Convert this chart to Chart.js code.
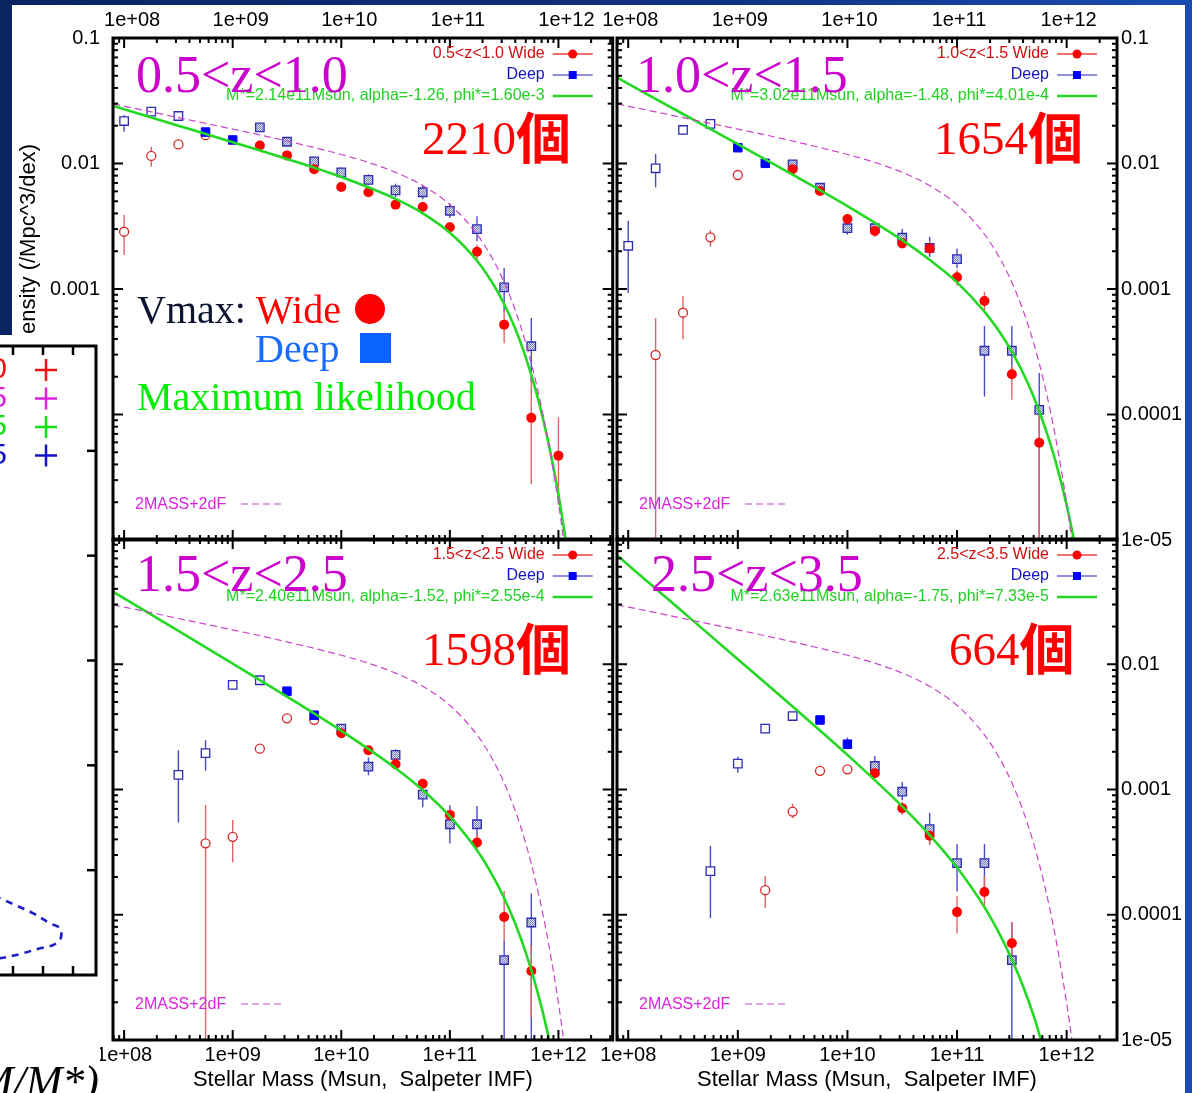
<!DOCTYPE html>
<html>
<head>
<meta charset="utf-8">
<title>Stellar mass functions</title>
<script src="https://cdn.jsdelivr.net/npm/chart.js@4.4.1/dist/chart.umd.min.js"></script>
<style>
  html, body { margin: 0; padding: 0; }
  body { width: 1192px; height: 1093px; overflow: hidden; position: relative;
         background: linear-gradient(90deg, #0a2462 0%, #0f3282 60%, #1a4cb2 100%); }
  #sheet { position: absolute; left: 12px; top: 5px; width: 1173px; height: 1088px; background: #fff; }
  #coverBg { position: absolute; left: 0; top: 335px; width: 100px; height: 758px; background: #fff; }
  canvas { position: absolute; }
</style>
</head>
<body>
<div id="sheet"></div>
<canvas id="tl" width="620" height="565" style="left:0px;top:0px"></canvas>
<canvas id="tr" width="604" height="565" style="left:588px;top:0px"></canvas>
<canvas id="bl" width="620" height="579" style="left:0px;top:514px"></canvas>
<canvas id="br" width="604" height="579" style="left:588px;top:514px"></canvas>
<div id="coverBg"></div>
<canvas id="ov" width="400" height="770" style="left:-300px;top:335px"></canvas>
<script>
// ---- ticks / labels
const xTickValues = [1e8, 1e9, 1e10, 1e11, 1e12];
const xTickLabels = ['1e+08', '1e+09', '1e+10', '1e+11', '1e+12'];
const yTickValues = [1e-5, 1e-4, 1e-3, 1e-2, 1e-1];
const yTickLabels = ['1e-05', '0.0001', '0.001', '0.01', '0.1'];

const zRanges = ['0.5<z<1.0', '1.0<z<1.5', '1.5<z<2.5', '2.5<z<3.5'];
const galaxyCounts = ['2210', '1654', '1598', '664'];
const fitLabels = [
    'M*=2.14e11Msun, alpha=-1.26, phi*=1.60e-3',
    'M*=3.02e11Msun, alpha=-1.48, phi*=4.01e-4',
    'M*=2.40e11Msun, alpha=-1.52, phi*=2.55e-4',
    'M*=2.63e11Msun, alpha=-1.75, phi*=7.33e-5'
];

// ---- data: [log10 M, phi, phi low, phi high]
// 0.5<z<1.0
const p1WideOpen = [[8.00,0.00286,0.00187,0.00389],[8.25,0.0115,0.00944,0.0136],[8.50,0.0142,0.0131,0.0153],[8.75,0.0168,0.0158,0.0178]];
const p1WideFilled = [[9.25,0.0139,0.0133,0.0145],[9.50,0.0116,0.0111,0.0121],[9.75,0.0090,0.0086,0.0095],[10.00,0.0065,0.0062,0.0068],[10.25,0.0059,0.0056,0.0062],[10.50,0.0047,0.0044,0.0050],[10.75,0.0045,0.0042,0.0048],[11.00,0.0031,0.0029,0.0034],[11.25,0.00198,0.0017,0.00225],[11.50,0.00052,0.00037,0.00068],[11.75,0.000094,0.000028,0.000206],[12.00,0.000047,0.000019,0.000095]];
const p1DeepOpen = [[8.00,0.0218,0.0179,0.0243],[8.25,0.0259,0.0245,0.0275],[8.50,0.0239,0.0225,0.0255]];
const p1DeepFilled = [[8.75,0.0178,0.0170,0.0187],[9.00,0.0154,0.0146,0.0162]];
const p1DeepHatched = [[9.25,0.0194,0.0183,0.0207],[9.50,0.0149,0.0140,0.0158],[9.75,0.0104,0.0096,0.0113],[10.00,0.0085,0.0078,0.0093],[10.25,0.0074,0.0067,0.0082],[10.50,0.0061,0.0054,0.0069],[10.75,0.0059,0.0052,0.0067],[11.00,0.0042,0.0037,0.0048],[11.25,0.0030,0.0024,0.0038],[11.50,0.00103,0.00066,0.00147],[11.75,0.00035,0.000182,0.000587]];
const p1Fit = [[7.9,0.0287],[8.5,0.0200],[9.0,0.0148],[9.5,0.01087],[10.0,0.0078],[10.5,0.00522],[10.75,0.00401],[11.0,0.00281],[11.25,0.00168],[11.4,0.00109],[11.5,0.000759],[11.6,0.000488],[11.7,0.000284],[11.8,0.000146],[11.9,0.000064],[12.0,0.0000231],[12.1,0.0000065]];

// 1.0<z<1.5
const p2WideOpen = [[8.25,0.000298,0.000001,0.000585],[8.50,0.000647,0.000397,0.00088],[8.75,0.00258,0.00217,0.00295],[9.00,0.0081,0.0077,0.0085]];
const p2WideFilled = [[9.50,0.0090,0.0084,0.0096],[9.75,0.00604,0.0056,0.0065],[10.00,0.00361,0.0033,0.0039],[10.25,0.0029,0.0026,0.0032],[10.50,0.00231,0.0021,0.0026],[10.75,0.0021,0.0019,0.0024],[11.00,0.00124,0.00106,0.00142],[11.25,0.000802,0.00066,0.00095],[11.50,0.000209,0.000131,0.000248],[11.75,0.0000596,0.000001,0.000103]];
const p2DeepOpen = [[8.00,0.00221,0.000935,0.0035],[8.25,0.00916,0.00645,0.0119],[8.50,0.0185,0.0169,0.0203],[8.75,0.0207,0.0198,0.0216]];
const p2DeepFilled = [[9.00,0.01336,0.0128,0.0140],[9.25,0.01003,0.0096,0.0105]];
const p2DeepHatched = [[9.50,0.00986,0.0094,0.0104],[9.75,0.00641,0.0060,0.0069],[10.00,0.00305,0.0027,0.0035],[10.25,0.00305,0.0027,0.0034],[10.50,0.00256,0.0022,0.0030],[10.75,0.00213,0.0018,0.0026],[11.00,0.00173,0.00146,0.0021],[11.25,0.000322,0.000139,0.000507],[11.50,0.000322,0.000207,0.000507],[11.75,0.000109,0.000001,0.000214]];
const p2Fit = [[7.9,0.0483],[8.5,0.0248],[9.0,0.01426],[9.5,0.00815],[10.0,0.00458],[10.5,0.00245],[10.75,0.00171],[11.0,0.00113],[11.25,0.00066],[11.4,0.00044],[11.5,0.000317],[11.6,0.000216],[11.7,0.000138],[11.8,0.00008],[11.9,0.000042],[12.0,0.000019],[12.1,0.0000072]];

// 1.5<z<2.5
const p3WideOpen = [[8.75,0.000372,0.000001,0.000753],[9.00,0.000419,0.000261,0.000571],[9.25,0.00212,0.0020,0.00225],[9.50,0.0037,0.0035,0.0039],[9.75,0.0036,0.0034,0.0038]];
const p3WideFilled = [[10.00,0.00281,0.0026,0.0030],[10.25,0.00206,0.0019,0.0022],[10.50,0.00159,0.0015,0.0017],[10.75,0.00111,0.00103,0.0012],[11.00,0.000627,0.00056,0.0007],[11.25,0.000377,0.00032,0.00044],[11.50,0.000096,0.000062,0.000155],[11.75,0.0000355,0.0000151,0.0000565]];
const p3DeepOpen = [[8.50,0.00131,0.000545,0.00206],[8.75,0.00195,0.00141,0.00247],[9.00,0.00684,0.0064,0.0073],[9.25,0.00745,0.0071,0.0078]];
const p3DeepFilled = [[9.50,0.0061,0.0058,0.0064],[9.75,0.00392,0.0037,0.0041]];
const p3DeepHatched = [[10.00,0.00306,0.0029,0.0033],[10.25,0.00152,0.0013,0.0018],[10.50,0.00189,0.0017,0.0021],[10.75,0.00091,0.00072,0.0011],[11.00,0.000528,0.00037,0.00075],[11.25,0.000528,0.00042,0.00074],[11.50,0.0000435,0.000001,0.000062],[11.75,0.0000867,0.000001,0.000148]];
const p3Fit = [[7.9,0.0379],[8.5,0.01845],[9.0,0.0101],[9.5,0.00551],[10.0,0.00294],[10.5,0.00148],[10.75,0.00099],[11.0,0.00061],[11.25,0.000327],[11.4,0.000201],[11.5,0.000136],[11.6,0.000086],[11.7,0.0000496],[11.8,0.0000256],[11.9,0.0000115],[12.0,0.0000043]];

// 2.5<z<3.5
const p4WideOpen = [[9.25,0.000157,0.000113,0.000204],[9.50,0.000667,0.00059,0.00077],[9.75,0.00141,0.0013,0.00153],[10.00,0.00145,0.00135,0.00156]];
const p4WideFilled = [[10.25,0.00135,0.00125,0.00146],[10.50,0.00071,0.00063,0.0008],[10.75,0.000427,0.00036,0.0005],[11.00,0.000105,0.000071,0.000141],[11.25,0.000152,0.000114,0.000204],[11.50,0.0000593,0.000040,0.000087]];
const p4DeepOpen = [[8.75,0.000223,0.000094,0.000355],[9.00,0.00161,0.00136,0.00183],[9.25,0.00306,0.0029,0.0033],[9.50,0.00386,0.0037,0.0041]];
const p4DeepFilled = [[9.75,0.00359,0.0034,0.0038],[10.00,0.0023,0.0021,0.0026]];
const p4DeepHatched = [[10.25,0.00154,0.0013,0.00185],[10.50,0.00096,0.00082,0.00115],[10.75,0.000482,0.00037,0.00065],[11.00,0.000258,0.000153,0.000366],[11.25,0.000258,0.000155,0.000366],[11.50,0.0000435,0.000001,0.000087]];
const p4Fit = [[7.9,0.0737],[8.5,0.0261],[9.0,0.01097],[9.5,0.00459],[10.0,0.00189],[10.5,0.000733],[10.75,0.000433],[11.0,0.000238],[11.25,0.000115],[11.4,0.000067],[11.5,0.000044],[11.6,0.0000272],[11.7,0.0000155],[11.8,0.0000079]];

// local 2MASS+2dF mass function, same in every panel
const localMF = [[7.9,0.0298],[8.25,0.0258],[8.5,0.0232],[8.75,0.0209],[9.0,0.0188],[9.25,0.0169],[9.5,0.0151],[9.75,0.0134],[10.0,0.0118],[10.25,0.0102],[10.5,0.0085],[10.75,0.00667],[11.0,0.0047],[11.25,0.00273],[11.4,0.0017],[11.5,0.00113],[11.6,0.000686],[11.7,0.000368],[11.8,0.00017],[11.9,0.000065],[12.0,0.0000197],[12.05,0.0000097],[12.1,0.0000044]];

// partly hidden plot on the left (only a contour piece is visible)
const ovEllipse = [[5.567,0.849],[6.567,0.731],[7.067,0.668],[7.677,0.588],[8.233,0.493],[8.567,0.445],[8.59,0.350],[8.343,0.286],[7.9,0.255],[7.233,0.200],[6.567,0.159],[5.567,0.114]];
const ovXTicks = [0, 1, 2, 3, 4, 5, 6, 7, 8, 9];
const ovYTicks = [1, 2, 3, 4, 5];
const ovKeyColors = ['#ee1111', '#dd22dd', '#11dd11', '#1111cc'];

// ---- helpers
const sans = '"Liberation Sans", Arial, sans-serif';
const serif = '"Liberation Serif", "Times New Roman", serif';
const cjk = '"Noto Sans CJK JP", "Noto Sans CJK SC", sans-serif';

function toPoints(rows) {
    return rows.map(r => ({x: Math.pow(10, r[0]), y: r[1], lo: r[2], hi: r[3]}));
}
function toCurve(rows) {
    return rows.map(r => ({x: Math.pow(10, r[0]), y: r[1]}));
}

function stipple() {
    let c = document.createElement('canvas');
    c.width = 2; c.height = 2;
    let g = c.getContext('2d');
    g.fillStyle = '#dcdff2';
    g.fillRect(0, 0, 2, 2);
    g.fillStyle = '#7c82bc';
    g.fillRect(0, 0, 1, 1);
    g.fillRect(1, 1, 1, 1);
    return g.createPattern(c, 'repeat');
}
const hatch = stipple();

function logTickSet(min, max) {
    let out = [];
    for (let k = Math.floor(Math.log10(min)); k <= Math.ceil(Math.log10(max)); k++) {
        for (let d = 1; d <= 9; d++) {
            let v = d * Math.pow(10, k);
            if (v > min * 1.0001 && v < max / 1.0001) out.push({v: v, major: d === 1});
        }
    }
    return out;
}

function line(ctx, x1, y1, x2, y2) {
    ctx.beginPath();
    ctx.moveTo(x1, y1);
    ctx.lineTo(x2, y2);
    ctx.stroke();
}

// per-canvas decorations (slide text boxes that sit on the figure)
const panelInfo = {
    tl: {
        idx: 0,
        notes: [
            {x: 136, y: 92, parts: [{text: zRanges[0], font: '52px ' + serif, color: '#cc00cc'}]},
            {x: 422, y: 154, parts: [{text: galaxyCounts[0], font: '47px ' + serif, color: '#ff0000'}, {text: '個', font: 'bold 55px ' + cjk, color: '#ff0000', dy: 4}]},
            {x: 137, y: 323, parts: [{text: 'Vmax: ', font: '40px ' + serif, color: '#0c1430'}, {text: 'Wide', font: '40px ' + serif, color: '#ff0000'}]},
            {x: 255, y: 362, parts: [{text: 'Deep', font: '40px ' + serif, color: '#1a6cff'}]},
            {x: 137, y: 410, parts: [{text: 'Maximum likelihood', font: '40px ' + serif, color: '#00ee00'}]}
        ],
        shapes: [
            {type: 'circle', x: 370, y: 309, r: 15, color: '#ff0000'},
            {type: 'square', x: 360, y: 333, w: 31, h: 30, color: '#0a64ff'}
        ]
    },
    tr: {
        idx: 1,
        notes: [
            {x: 636, y: 92, parts: [{text: zRanges[1], font: '52px ' + serif, color: '#cc00cc'}]},
            {x: 934, y: 154, parts: [{text: galaxyCounts[1], font: '47px ' + serif, color: '#ff0000'}, {text: '個', font: 'bold 55px ' + cjk, color: '#ff0000', dy: 4}]}
        ],
        shapes: []
    },
    bl: {
        idx: 2,
        notes: [
            {x: 136, y: 591, parts: [{text: zRanges[2], font: '52px ' + serif, color: '#cc00cc'}]},
            {x: 422, y: 665, parts: [{text: galaxyCounts[2], font: '47px ' + serif, color: '#ff0000'}, {text: '個', font: 'bold 55px ' + cjk, color: '#ff0000', dy: 4}]}
        ],
        shapes: []
    },
    br: {
        idx: 3,
        notes: [
            {x: 651, y: 591, parts: [{text: zRanges[3], font: '52px ' + serif, color: '#cc00cc'}]},
            {x: 949, y: 665, parts: [{text: galaxyCounts[3], font: '47px ' + serif, color: '#ff0000'}, {text: '個', font: 'bold 55px ' + cjk, color: '#ff0000', dy: 4}]}
        ],
        shapes: []
    }
};

// ---- plugins
const errorBars = {
    id: 'errorBars',
    beforeDatasetsDraw(chart) {
        const {ctx, chartArea: a, scales: {x, y}} = chart;
        ctx.save();
        ctx.beginPath();
        ctx.rect(a.left, a.top, a.right - a.left, a.bottom - a.top);
        ctx.clip();
        chart.data.datasets.forEach(ds => {
            if (!ds.errColor) return;
            ctx.strokeStyle = ds.errColor;
            ctx.lineWidth = 1.4;
            ds.data.forEach(p => {
                let px = x.getPixelForValue(p.x);
                line(ctx, px, y.getPixelForValue(p.hi), px, y.getPixelForValue(p.lo));
            });
        });
        ctx.restore();
    }
};

const gpFrame = {
    id: 'gpFrame',
    afterDatasetsDraw(chart) {
        const {ctx, chartArea: a, scales: {x, y}} = chart;
        ctx.save();
        ctx.strokeStyle = '#000';
        ctx.lineWidth = 2;
        logTickSet(x.min, x.max).forEach(t => {
            let p = x.getPixelForValue(t.v);
            let L = t.major ? 10 : 5;
            line(ctx, p, a.top, p, a.top + L);
            line(ctx, p, a.bottom, p, a.bottom - L);
        });
        logTickSet(y.min, y.max).forEach(t => {
            let p = y.getPixelForValue(t.v);
            let L = t.major ? 10 : 5;
            line(ctx, a.left, p, a.left + L, p);
            line(ctx, a.right, p, a.right - L, p);
        });
        ctx.lineWidth = 3;
        ctx.strokeRect(a.left, a.top, a.right - a.left, a.bottom - a.top);
        ctx.restore();
    }
};

const gpKey = {
    id: 'gpKey',
    afterDatasetsDraw(chart) {
        const info = panelInfo[chart.canvas.id];
        const {ctx, chartArea: a} = chart;
        const rows = [
            {text: zRanges[info.idx] + ' Wide', color: '#d01010', stroke: '#e84040', lw: 1.3, marker: 'circle', fill: '#ff0000'},
            {text: 'Deep', color: '#1414c4', stroke: '#6a6ad4', lw: 1.3, marker: 'rect', fill: '#0000ff'},
            {text: fitLabels[info.idx], color: '#22d022', stroke: '#25d825', lw: 2.6, marker: null}
        ];
        ctx.save();
        ctx.font = '16px ' + sans;
        ctx.textBaseline = 'middle';
        rows.forEach((r, i) => {
            let yy = a.top + 16 + i * 21;
            ctx.fillStyle = r.color;
            ctx.textAlign = 'right';
            ctx.fillText(r.text, a.right - 68, yy);
            ctx.strokeStyle = r.stroke;
            ctx.lineWidth = r.lw;
            line(ctx, a.right - 60, yy, a.right - 20, yy);
            ctx.fillStyle = r.fill;
            if (r.marker === 'circle') {
                ctx.beginPath();
                ctx.arc(a.right - 40, yy, 4.5, 0, Math.PI * 2);
                ctx.fill();
            } else if (r.marker === 'rect') {
                ctx.fillRect(a.right - 44, yy - 4, 8, 8);
            }
        });
        // 2MASS+2dF key, lower left
        let ky = a.bottom - 36;
        ctx.fillStyle = '#dd22dd';
        ctx.textAlign = 'left';
        ctx.fillText('2MASS+2dF', a.left + 22, ky + 1);
        ctx.strokeStyle = '#c846c8';
        ctx.lineWidth = 1.2;
        ctx.setLineDash([7, 4]);
        line(ctx, a.left + 128, ky, a.left + 169, ky);
        ctx.restore();
    }
};

const slideText = {
    id: 'slideText',
    afterDraw(chart) {
        const info = panelInfo[chart.canvas.id];
        const ctx = chart.ctx;
        const ox = parseFloat(chart.canvas.style.left);
        const oy = parseFloat(chart.canvas.style.top);
        ctx.save();
        ctx.textBaseline = 'alphabetic';
        ctx.textAlign = 'left';
        info.notes.forEach(n => {
            let x = n.x - ox;
            n.parts.forEach(p => {
                ctx.font = p.font;
                ctx.fillStyle = p.color;
                ctx.fillText(p.text, x, n.y - oy + (p.dy || 0));
                x += ctx.measureText(p.text).width;
            });
        });
        info.shapes.forEach(s => {
            ctx.fillStyle = s.color;
            if (s.type === 'circle') {
                ctx.beginPath();
                ctx.arc(s.x - ox, s.y - oy, s.r, 0, Math.PI * 2);
                ctx.fill();
            } else {
                ctx.fillRect(s.x - ox, s.y - oy, s.w, s.h);
            }
        });
        ctx.restore();
    }
};

// ---- panels
function panelConfig(s, left, top) {
    return {
        type: 'scatter',
        data: {
            datasets: [
                {label: 'Wide (incomplete)', data: toPoints(s.wideOpen), pointStyle: 'circle', pointRadius: 4.5, backgroundColor: '#ffffff', borderColor: '#d82828', borderWidth: 1.3, errColor: '#e06464', order: 6},
                {label: 'Deep (incomplete)', data: toPoints(s.deepOpen), pointStyle: 'rect', pointRadius: 6, backgroundColor: '#ffffff', borderColor: '#2c2cb4', borderWidth: 1.3, errColor: '#4a4ac8', order: 5},
                {label: 'Deep', data: toPoints(s.deepHatched), pointStyle: 'rect', pointRadius: 6, backgroundColor: hatch, borderColor: '#2c2cb4', borderWidth: 1.3, errColor: '#4a4ac8', order: 4},
                {label: 'Deep only', data: toPoints(s.deepFilled), pointStyle: 'rect', pointRadius: 6, backgroundColor: '#0000ff', borderColor: '#0000ff', borderWidth: 1, errColor: '#4a4ac8', order: 3},
                {label: 'Wide', data: toPoints(s.wideFilled), pointStyle: 'circle', pointRadius: 5, backgroundColor: '#ff0000', borderColor: '#ff0000', borderWidth: 0, errColor: '#e06464', order: 2},
                {label: 'Maximum likelihood', data: toCurve(s.fit), showLine: true, borderColor: '#25d825', borderWidth: 2.6, pointRadius: 0, cubicInterpolationMode: 'monotone', order: 1},
                {label: '2MASS+2dF', data: toCurve(localMF), showLine: true, borderColor: '#c846c8', borderWidth: 1.2, borderDash: [7, 4], pointRadius: 0, cubicInterpolationMode: 'monotone', order: 0}
            ]
        },
        options: {
            responsive: false,
            animation: false,
            devicePixelRatio: 1,
            events: [],
            layout: {padding: {
                left: left ? 0 : 29,
                right: left ? 3 : 0,
                top: top ? 0 : 25,
                bottom: top ? 25 : 0
            }},
            elements: {line: {capBezierPoints: false}},
            plugins: {legend: {display: false}, tooltip: {enabled: false}},
            scales: {
                x: {
                    type: 'logarithmic',
                    position: top ? 'top' : 'bottom',
                    min: 7.9e7,
                    max: left ? 3.16e12 : 2.88e12,
                    grid: {display: false, drawTicks: false},
                    border: {display: false},
                    afterBuildTicks: sc => { sc.ticks = xTickValues.map(v => ({value: v})); },
                    afterFit: sc => { sc.height = top ? 38 : 53; },
                    ticks: {
                        autoSkip: false, maxRotation: 0, padding: top ? 6 : 3, color: '#000',
                        labelOffset: top ? (left ? 8 : 2) : 0,
                        font: {family: sans, size: 20},
                        callback: (v, i) => xTickLabels[i]
                    },
                    title: {
                        display: !top, text: 'Stellar Mass (Msun,  Salpeter IMF)', color: '#000',
                        font: {family: sans, size: 22}, padding: {top: 0, bottom: 0}
                    }
                },
                y: {
                    type: 'logarithmic',
                    position: left ? 'left' : 'right',
                    min: 1e-5,
                    max: 0.1,
                    grid: {display: false, drawTicks: false},
                    border: {display: false},
                    afterBuildTicks: sc => { sc.ticks = yTickValues.map(v => ({value: v})); },
                    afterFit: sc => { sc.width = left ? 113 : 75; },
                    ticks: {
                        autoSkip: false, padding: left ? 13 : 4, color: '#000',
                        font: {family: sans, size: 20},
                        // the top label of the lower right panel would sit on the 1e-05 above it
                        callback: (v, i) => (!top && !left && i === 4) ? '' : yTickLabels[i]
                    },
                    title: {
                        display: left, text: 'Number Density (/Mpc^3/dex)', color: '#000',
                        font: {family: sans, size: 22}, padding: {top: 16, bottom: 0}
                    }
                }
            }
        },
        plugins: [errorBars, gpFrame, gpKey, slideText]
    };
}

new Chart(document.getElementById('tl'), panelConfig(
    {wideOpen: p1WideOpen, wideFilled: p1WideFilled, deepOpen: p1DeepOpen, deepFilled: p1DeepFilled, deepHatched: p1DeepHatched, fit: p1Fit}, true, true));
new Chart(document.getElementById('tr'), panelConfig(
    {wideOpen: p2WideOpen, wideFilled: p2WideFilled, deepOpen: p2DeepOpen, deepFilled: p2DeepFilled, deepHatched: p2DeepHatched, fit: p2Fit}, false, true));
new Chart(document.getElementById('bl'), panelConfig(
    {wideOpen: p3WideOpen, wideFilled: p3WideFilled, deepOpen: p3DeepOpen, deepFilled: p3DeepFilled, deepHatched: p3DeepHatched, fit: p3Fit}, true, false));
new Chart(document.getElementById('br'), panelConfig(
    {wideOpen: p4WideOpen, wideFilled: p4WideFilled, deepOpen: p4DeepOpen, deepFilled: p4DeepFilled, deepHatched: p4DeepHatched, fit: p4Fit}, false, false));

// ---- the other figure peeking in from the left edge
const ovFrame = {
    id: 'ovFrame',
    afterDatasetsDraw(chart) {
        const {ctx, chartArea: a, scales: {x, y}} = chart;
        ctx.save();
        ctx.strokeStyle = '#000';
        ctx.lineWidth = 2.5;
        ovXTicks.forEach(v => {
            let p = x.getPixelForValue(v);
            line(ctx, p, a.top, p, a.top + 9);
            line(ctx, p, a.bottom, p, a.bottom - 9);
        });
        ovYTicks.forEach(v => {
            let p = y.getPixelForValue(v);
            line(ctx, a.right, p, a.right - 9, p);
            line(ctx, a.left, p, a.left + 9, p);
        });
        ctx.lineWidth = 3;
        ctx.strokeRect(a.left, a.top, a.right - a.left, a.bottom - a.top);
        // key
        ctx.font = '30px ' + sans;
        ctx.textBaseline = 'middle';
        ctx.textAlign = 'right';
        zRanges.forEach((t, i) => {
            let yy = a.top + 24 + i * 28.5;
            ctx.fillStyle = ovKeyColors[i];
            ctx.fillText(t, a.right - 89, yy);
            ctx.strokeStyle = ovKeyColors[i];
            ctx.lineWidth = 2.5;
            line(ctx, a.right - 61, yy, a.right - 39, yy);
            line(ctx, a.right - 50, yy - 11, a.right - 50, yy + 11);
        });
        // x-axis title (mostly off screen)
        ctx.fillStyle = '#000';
        ctx.font = 'italic 44px ' + serif;
        ctx.textBaseline = 'alphabetic';
        ctx.textAlign = 'right';
        ctx.fillText('log(M/M*)', chart.width - 1, 761);
        ctx.restore();
    }
};

new Chart(document.getElementById('ov'), {
    type: 'scatter',
    data: {
        datasets: [{
            label: '2.5<z<3.5 contour',
            data: ovEllipse.map(r => ({x: r[0], y: r[1]})),
            showLine: true,
            borderColor: '#1c1cc4',
            borderWidth: 2.6,
            borderDash: [7, 6],
            pointRadius: 0,
            tension: 0.35
        }]
    },
    options: {
        responsive: false,
        animation: false,
        devicePixelRatio: 1,
        events: [],
        layout: {padding: {left: 103, right: 4, top: 11, bottom: 130}},
        plugins: {legend: {display: false}, tooltip: {enabled: false}},
        scales: {
            x: {type: 'linear', min: 0, max: 9.7667, display: false},
            y: {type: 'linear', min: 0, max: 6, display: false}
        }
    },
    plugins: [ovFrame]
});
</script>
</body>
</html>
